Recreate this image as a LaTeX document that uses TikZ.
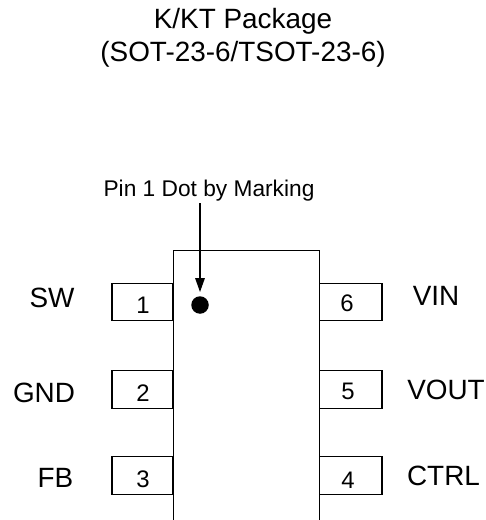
\documentclass[tikz,border=0pt]{standalone}
\usepackage{fontspec}
\setmainfont{Liberation Sans}
\usetikzlibrary{arrows.meta}
\tikzset{
 pinbox/.style={draw,line width=1.3bp,minimum width=61bp,minimum height=37.5bp,inner sep=0pt},
 rightbox/.style={pinbox,minimum width=63bp},
 lbl/.style={inner sep=0pt,font=\fontsize{28}{28}\selectfont},
 num/.style={inner sep=0pt,font=\fontsize{24}{24}\selectfont},
}
\begin{document}
\begin{tikzpicture}[x=1bp,y=-1bp]
\useasboundingbox (0,0) rectangle (486,520);
\fill[white] (0,0) rectangle (486,520);
\node[inner sep=0pt,align=center,font=\fontsize{28}{33}\selectfont] (title) at (243,38) {K/KT Package\\(SOT-23-6/TSOT-23-6)};
\node[pinbox] (p1) at (142.5,302) {};
\node[pinbox] (p2) at (142.5,389.5) {};
\node[pinbox] (p3) at (142.5,475.5) {};
\node[rightbox] (p6) at (350.5,302) {};
\node[rightbox] (p5) at (350.5,389.5) {};
\node[rightbox] (p4) at (350.5,475.5) {};
\fill[white] (174,250) rectangle (319,520);
\draw[line width=1.3bp] (173.5,520) -- (173.5,250.7) -- (319.5,250.7) -- (319.5,520);
\node[num] (n1) at (143,305) {1};
\node[num] (n2) at (143,393) {2};
\node[num] (n3) at (143,479) {3};
\node[num] (n6) at (347,303) {6};
\node[num] (n5) at (348,391) {5};
\node[num] (n4) at (348,480) {4};
\node[lbl] (sw) at (52,298) {SW};
\node[lbl] (gnd) at (44,393) {GND};
\node[lbl] (fb) at (55.5,478) {FB};
\node[lbl] (vin) at (436,296) {VIN};
\node[lbl] (vout) at (446,390) {VOUT};
\node[lbl] (ctrl) at (443.5,476) {CTRL};
\node[inner sep=0pt,font=\fontsize{22.8}{22.8}\selectfont] (mark) at (209,191) {Pin 1 Dot by Marking};
\node[circle,fill=black,minimum size=17.5bp,inner sep=0pt] (dot) at (200,305) {};
\coordinate (tail) at (200,203);
\draw[line width=1.5bp,-{Stealth[length=14bp,width=9.5bp,inset=0bp]},shorten >=4bp] (tail) -- (dot.north);
\end{tikzpicture}
\end{document}
